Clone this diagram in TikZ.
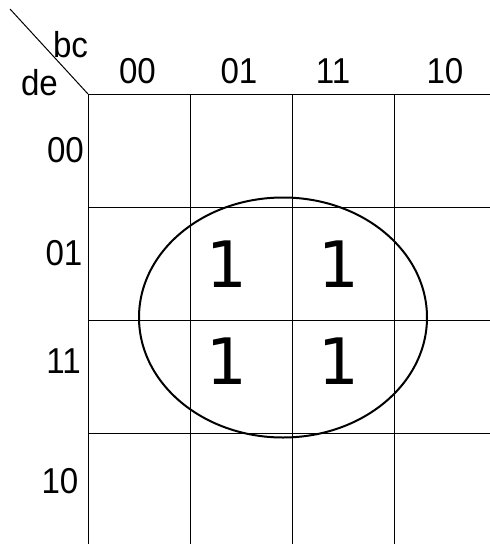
\documentclass[tikz,border=0pt]{standalone}
\usepackage{fontspec}
\setmainfont{Liberation Sans}
\newfontfamily\lblfont[FakeStretch=0.92]{Liberation Sans}
\newfontfamily\onefont{DejaVu Sans}
\begin{document}
\begin{tikzpicture}[x=1pt,y=-1pt,
  gridline/.style={line width=1pt,black},
  lbl/.style={font=\lblfont\fontsize{36}{36}\selectfont,inner sep=0pt},
  one/.style={font=\onefont\fontsize{64}{64}\selectfont,inner sep=0pt}]
\useasboundingbox (0,0) rectangle (490,544);
% grid
\coordinate (tl) at (88,94);
\coordinate (diag) at (10,9);
\draw[gridline] (diag) -- (tl);
\draw[gridline] (tl) -- (490,94);
\draw[gridline] (88,207) -- (490,207);
\draw[gridline] (88,320) -- (490,320);
\draw[gridline] (88,433) -- (490,433);
\draw[gridline] (tl) -- (88,544);
\draw[gridline] (190,94) -- (190,544);
\draw[gridline] (292,94) -- (292,544);
\draw[gridline] (394,94) -- (394,544);
% corner labels
\node[lbl] (bc) at (70.5,45) {bc};
\node[lbl] (de) at (39.5,82.5) {de};
% column labels
\node[lbl] (c00) at (137.5,71.5) {00};
\node[lbl] (c01) at (239,71.5) {01};
\node[lbl] (c11) at (333,71.5) {11};
\node[lbl] (c10) at (445,71.5) {10};
% row labels
\node[lbl] (r00) at (65.5,150) {00};
\node[lbl] (r01) at (64,253.5) {01};
\node[lbl] (r11) at (63.5,361.5) {11};
\node[lbl] (r10) at (60,481) {10};
% ones
\node[one] (m1) at (227,264) {1};
\node[one] (m2) at (339,264) {1};
\node[one] (m3) at (227,361) {1};
\node[one] (m4) at (339,361) {1};
% ellipse
\draw[line width=2pt] (283,317.5) ellipse [x radius=144, y radius=120];
\end{tikzpicture}
\end{document}
